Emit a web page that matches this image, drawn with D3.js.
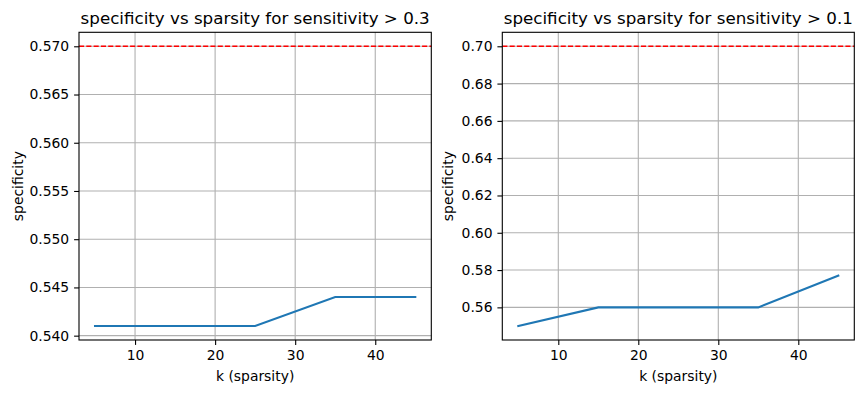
<!DOCTYPE html>
<html>
<head>
<meta charset="utf-8">
<script src="https://cdn.jsdelivr.net/npm/d3@7"></script>
<style>
  body { margin: 0; background: #fff; }
  svg { display: block; font-family: "DejaVu Sans", sans-serif; }
</style>
</head>
<body>
<svg id="chart" width="863" height="393"></svg>
<script>
// data
var kValues = [5, 15, 25, 35, 45];
var specLeft = [0.541, 0.541, 0.541, 0.544, 0.544];
var specRight = [0.55, 0.56, 0.56, 0.56, 0.577];
var targetLeft = 0.57;
var targetRight = 0.70;
var titles = ["specificity vs sparsity for sensitivity > 0.3", "specificity vs sparsity for sensitivity > 0.1"];
var xTicks = [10, 20, 30, 40];
var yTicksLeft = [0.540, 0.545, 0.550, 0.555, 0.560, 0.565, 0.570];
var yTicksRight = [0.56, 0.58, 0.60, 0.62, 0.64, 0.66, 0.68, 0.70];

var svg = d3.select('#chart');
var plotTop = 32.3, plotBottom = 340;

// matplotlib-like 5% margins, target line counted in the y limits
var padded = function(lo, hi) {
  var m = (hi - lo) * 0.05;
  return [lo - m, hi + m];
}

var panels = [
  { left: 79, right: 431.3, values: specLeft, target: targetLeft, title: titles[0], yTicks: yTicksLeft, fmt: d3.format('.3f'), ylabelX: 18 },
  { left: 502.3, right: 854.3, values: specRight, target: targetRight, title: titles[1], yTicks: yTicksRight, fmt: d3.format('.2f'), ylabelX: 448 }
];

panels.forEach(function(p) {
  var x = d3.scaleLinear()
    .domain(padded(d3.min(kValues), d3.max(kValues)))
    .range([p.left, p.right]);
  var ymin = d3.min(p.values.concat([p.target]));
  var ymax = d3.max(p.values.concat([p.target]));
  var y = d3.scaleLinear()
    .domain(padded(ymin, ymax))
    .range([plotBottom, plotTop]);

  var g = svg.append('g');

  // grid
  g.append('g').selectAll('line').data(xTicks).enter().append('line')
    .attr('x1', function(d){ return x(d); }).attr('x2', function(d){ return x(d); })
    .attr('y1', plotTop).attr('y2', plotBottom)
    .attr('stroke', '#b0b0b0').attr('stroke-width', 1.1);
  g.append('g').selectAll('line').data(p.yTicks).enter().append('line')
    .attr('x1', p.left).attr('x2', p.right)
    .attr('y1', function(d){ return y(d); }).attr('y2', function(d){ return y(d); })
    .attr('stroke', '#b0b0b0').attr('stroke-width', 1.1);

  // target line
  g.append('line')
    .attr('x1', p.left).attr('x2', p.right)
    .attr('y1', y(p.target)).attr('y2', y(p.target))
    .attr('stroke', 'red').attr('stroke-width', 1.39)
    .attr('stroke-dasharray', '5.1,2.2');

  // series
  var line = d3.line()
    .x(function(d, i){ return x(kValues[i]); })
    .y(function(d){ return y(d); });
  g.append('path')
    .datum(p.values)
    .attr('d', line)
    .attr('fill', 'none')
    .attr('stroke', '#1f77b4')
    .attr('stroke-width', 2.08)
    .attr('stroke-linecap', 'square');

  // axes
  var xAxis = d3.axisBottom(x).tickValues(xTicks).tickSizeInner(4.9).tickSizeOuter(0).tickPadding(4.9);
  var yAxis = d3.axisLeft(y).tickValues(p.yTicks).tickFormat(p.fmt).tickSizeInner(4.9).tickSizeOuter(0).tickPadding(4.9);

  var gx = g.append('g').attr('transform', 'translate(0,' + plotBottom + ')').call(xAxis);
  var gy = g.append('g').attr('transform', 'translate(' + p.left + ',0)').call(yAxis);
  [gx, gy].forEach(function(a) {
    a.select('.domain').remove();
    a.selectAll('.tick line').attr('stroke', '#000').attr('stroke-width', 1.1);
    a.selectAll('.tick text').attr('fill', '#000')
      .style('font-family', '"DejaVu Sans", sans-serif').style('font-size', '13.9px');
  });

  // spines
  g.append('rect')
    .attr('x', p.left).attr('y', plotTop)
    .attr('width', p.right - p.left).attr('height', plotBottom - plotTop)
    .attr('fill', 'none').attr('stroke', '#000').attr('stroke-width', 1.1);

  // labels
  g.append('text')
    .attr('x', (p.left + p.right) / 2).attr('y', 24)
    .attr('text-anchor', 'middle')
    .style('font-size', '16.7px')
    .text(p.title);
  g.append('text')
    .attr('x', (p.left + p.right) / 2).attr('y', 381)
    .attr('text-anchor', 'middle')
    .style('font-size', '13.9px')
    .text('k (sparsity)');
  g.append('text')
    .attr('transform', 'translate(' + (p.ylabelX + 5) + ',' + ((plotTop + plotBottom) / 2) + ') rotate(-90)')
    .attr('text-anchor', 'middle')
    .style('font-size', '13.9px')
    .text('specificity');
});
</script>
</body>
</html>
